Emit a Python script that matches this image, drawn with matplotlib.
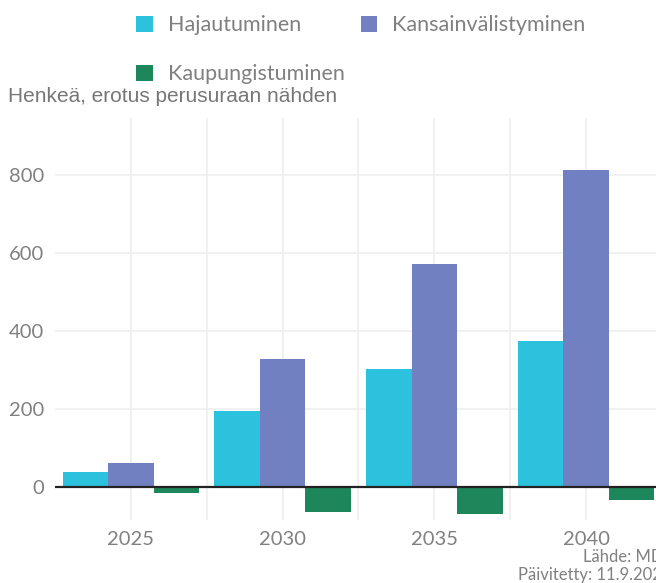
import matplotlib
matplotlib.use("Agg")
import matplotlib.pyplot as plt
import numpy as np
from matplotlib.patches import Patch

years = ["2025", "2030", "2035", "2040"]
series_names = ["Hajautuminen", "Kansainvälistyminen", "Kaupungistuminen"]
hajautuminen = [38, 194, 301, 373]
kansainvalistyminen = [61, 327, 571, 812]
kaupungistuminen = [-16, -64, -70, -33]
colors = ["#2cc1dc", "#7080c0", "#1d865a"]
yticks = [0, 200, 400, 600, 800]

W, H = 656, 583
fig = plt.figure(figsize=(W / 100, H / 100), dpi=100)
ax = fig.add_axes([55 / W, (H - 520) / H, (662 - 55) / W, (520 - 118) / H])

x = np.arange(len(years))
bw = 0.3
for i, (vals, c) in enumerate(zip([hajautuminen, kansainvalistyminen, kaupungistuminen], colors)):
    ax.bar(x + (i - 1) * bw, vals, width=bw, color=c, zorder=3)

ax.set_xlim(-0.5, len(years) - 0.5)
ax.set_ylim(-85, 946)
ax.set_yticks(yticks)
ax.set_xticks(x)
ax.set_xticklabels(years)
ax.set_xticks(np.arange(0.5, len(years), 1.0), minor=True)
ax.grid(True, which="major", color="#efefef", linewidth=1.2, zorder=0)
ax.grid(True, which="minor", axis="x", color="#efefef", linewidth=1.2, zorder=0)
ax.axhline(0, color="#222222", linewidth=1.6, zorder=4)
for s in ax.spines.values():
    s.set_visible(False)
ax.tick_params(axis="both", which="both", length=0, labelsize=14.5, colors="#808080", pad=8)
for lab in ax.get_xticklabels() + ax.get_yticklabels():
    lab.set_family("Lato")

# order so that row 1 = Hajautuminen, Kansainvälistyminen; row 2 = Kaupungistuminen
order = [0, 2, 1]
handles = [Patch(facecolor=colors[k], edgecolor="none") for k in order]
labels = [series_names[k] for k in order]
fig.legend(handles, labels, loc="upper left", bbox_to_anchor=(117 / W, 1 + 4 / H),
           ncol=2, frameon=False, prop={"family": "Lato", "size": 15.5},
           labelcolor="#808080", handlelength=0.75, handleheight=0.75,
           columnspacing=0.75, labelspacing=1.35, handletextpad=0.7)

fig.text(8 / W, 1 - 96 / H, "Henkeä, erotus perusuraan nähden", fontsize=15,
         family="Liberation Sans", color="#777777", va="center", ha="left")
fig.text(668 / W, 1 - 557 / H, "Lähde: MDI", fontsize=12, family="Lato",
         color="#808080", va="center", ha="right")
fig.text(672 / W, 1 - 575 / H, "Päivitetty: 11.9.2024", fontsize=12, family="Lato",
         color="#808080", va="center", ha="right")

fig.savefig("out.png", dpi=100)
